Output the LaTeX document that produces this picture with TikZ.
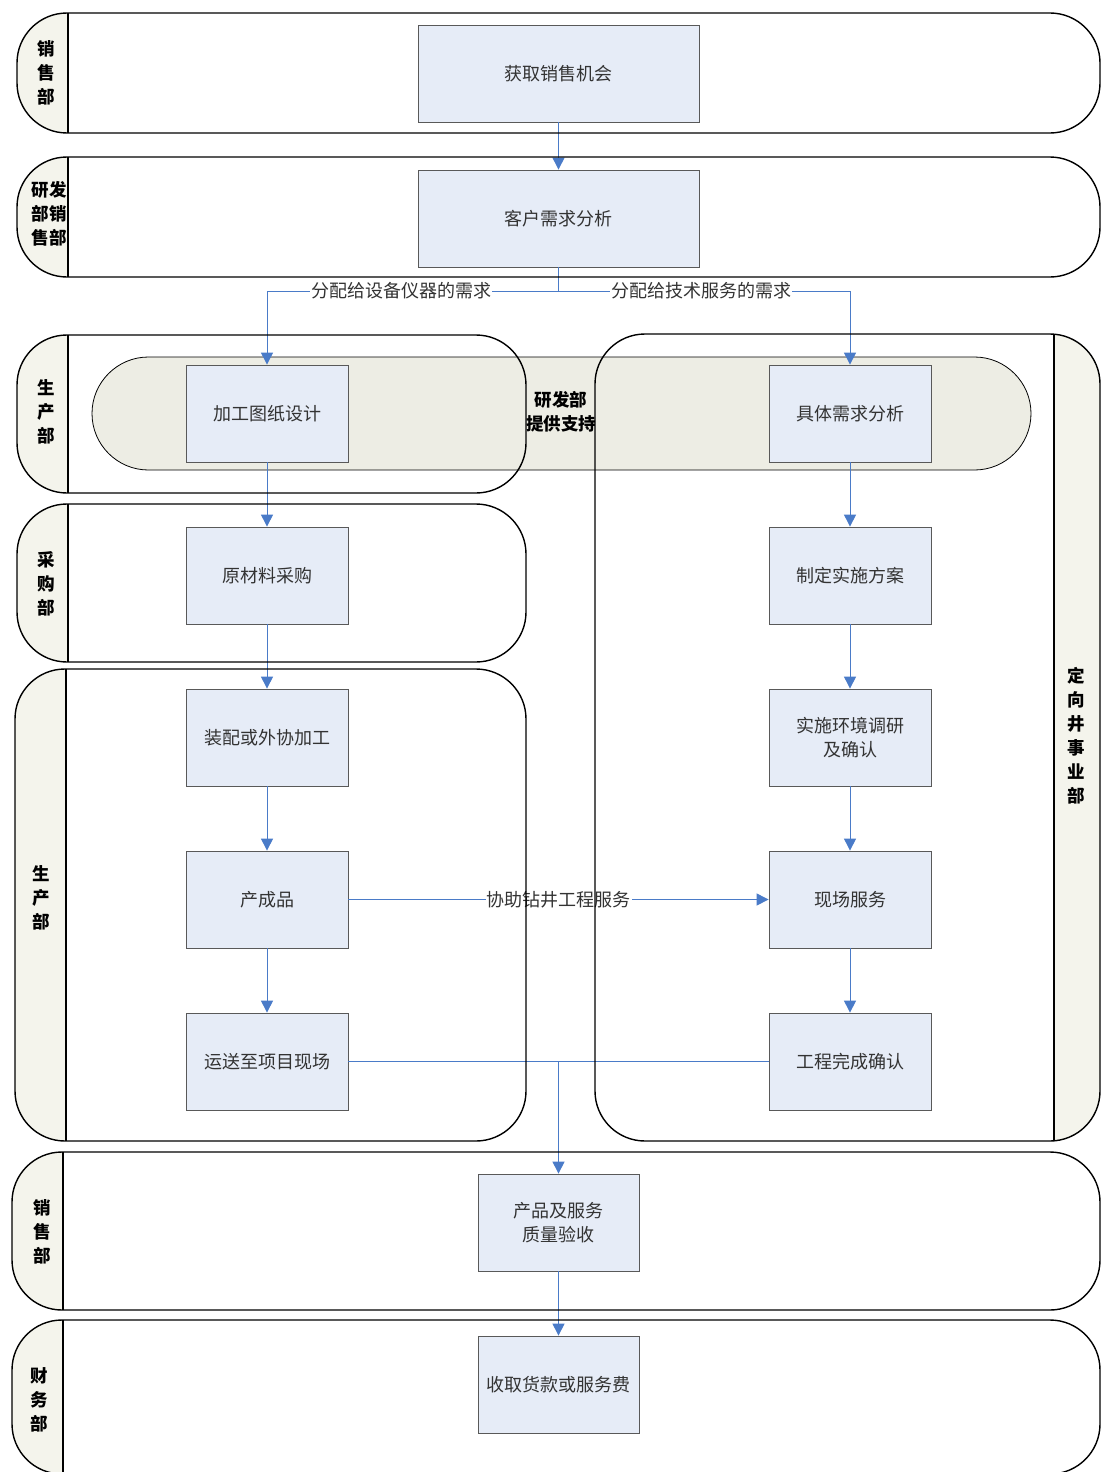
\documentclass[tikz,border=0pt]{standalone}
\usepackage{fontspec}
\usetikzlibrary{arrows.meta}
\newfontfamily\cjk{Noto Sans CJK SC}
\definecolor{flowblue}{RGB}{74,123,200}
\definecolor{boxblue}{RGB}{230,236,247}
\definecolor{bandgray}{RGB}{237,237,228}
\definecolor{lanegray}{RGB}{244,244,236}

% shaded label part of a lane
\newcommand{\poolshade}[2]{%
  \begin{scope}
    \clip[rounded corners=50pt] #1;
    \fill[lanegray] #2;
  \end{scope}}

\tikzset{
  taskbox/.style={draw=black!65, fill=boxblue, line width=0.8pt, minimum width=162pt,
    minimum height=97pt, align=center, inner sep=0pt, text=black!80,
    font=\cjk\fontsize{18}{24}\selectfont},
  lanetext/.style={align=center, inner sep=0pt, font=\cjk\bfseries\fontsize{17.5}{24}\selectfont},
  flowline/.style={draw=flowblue, line width=1pt},
  flowarrow/.style={flowline, -{Triangle[width=12pt,length=12pt]}},
  flowlabel/.style={fill=white, inner sep=1pt, text=black!80, font=\cjk\fontsize{18}{24}\selectfont},
  lanebd/.style={line width=1.4pt, rounded corners=50pt},
}

\begin{document}
\begin{tikzpicture}[x=1pt, y=-1pt]
\useasboundingbox (0,0) rectangle (1101,1472);
\clip (0,0) rectangle (1101,1472);

% lane label shading
\poolshade{(17,13) rectangle (1100,133)}{(17,13) rectangle (68,133)}
\poolshade{(17,157) rectangle (1100,277)}{(17,157) rectangle (68,277)}
\poolshade{(17,335) rectangle (526,493)}{(17,335) rectangle (68,493)}
\poolshade{(17,504) rectangle (526,662)}{(17,504) rectangle (68,662)}
\poolshade{(15,669) rectangle (526,1141)}{(15,669) rectangle (66,1141)}
\poolshade{(595,334) rectangle (1100,1141)}{(1054,334) rectangle (1100,1141)}
\poolshade{(12,1152) rectangle (1100,1310)}{(12,1152) rectangle (63,1310)}
\poolshade{(12,1320) rectangle (1100,1474)}{(12,1320) rectangle (63,1474)}

% support band
\draw[fill=bandgray, line width=0.8pt, rounded corners=56.5pt] (92,357) rectangle (1031,470);
\node[lanetext] (support) at (561,412) {研发部\\提供支持};

% tasks
\node[taskbox, minimum width=281pt] (t1) at (558.5,73.5) {获取销售机会};
\node[taskbox, minimum width=281pt] (t2) at (558.5,218.5) {客户需求分析};

\node[taskbox] (a1) at (267,413.5) {加工图纸设计};
\node[taskbox] (a2) at (267,575.5) {原材料采购};
\node[taskbox] (a3) at (267,737.5) {装配或外协加工};
\node[taskbox] (a4) at (267,899.5) {产成品};
\node[taskbox] (a5) at (267,1061.5) {运送至项目现场};

\node[taskbox] (b1) at (850,413.5) {具体需求分析};
\node[taskbox] (b2) at (850,575.5) {制定实施方案};
\node[taskbox] (b3) at (850,737.5) {实施环境调研\\及确认};
\node[taskbox] (b4) at (850,899.5) {现场服务};
\node[taskbox] (b5) at (850,1061.5) {工程完成确认};

\node[taskbox, minimum width=161pt] (c1) at (558.5,1222.5) {产品及服务\\质量验收};
\node[taskbox, minimum width=161pt] (c2) at (558.5,1384.5) {收取货款或服务费};

% connectors
\coordinate (split) at (558.5,291);
\coordinate (join) at (558.5,1061.5);
\draw[flowarrow] (t1) -- (t2);
\draw[flowline] (t2) -- (split);
\draw[flowarrow] (split) -| node[flowlabel, pos=0.27] {分配给设备仪器的需求} (a1);
\draw[flowarrow] (split) -| node[flowlabel, pos=0.245] {分配给技术服务的需求} (b1);

\foreach \u/\v in {a1/a2, a2/a3, a3/a4, a4/a5, b1/b2, b2/b3, b3/b4, b4/b5}
  \draw[flowarrow] (\u) -- (\v);

\draw[flowarrow] (a4) -- node[flowlabel] {协助钻井工程服务} (b4);
\draw[flowline] (a5) -- (b5);
\draw[flowarrow] (join) -- (c1);
\draw[flowarrow] (c1) -- (c2);

% lane outlines
\draw[lanebd] (17,13) rectangle (1100,133);
\draw[lanebd] (17,157) rectangle (1100,277);
\draw[lanebd] (17,335) rectangle (526,493);
\draw[lanebd] (17,504) rectangle (526,662);
\draw[lanebd] (15,669) rectangle (526,1141);
\draw[lanebd] (595,334) rectangle (1100,1141);
\draw[lanebd] (12,1152) rectangle (1100,1310);
\draw[lanebd] (12,1320) rectangle (1100,1474);
\foreach \x/\ya/\yb in {68/13/133, 68/157/277, 68/335/493, 68/504/662, 66/669/1141,
    1054/334/1141, 63/1152/1310, 63/1320/1474}
  \draw[line width=1.4pt] (\x,\ya) -- (\x,\yb);

% lane names
\node[lanetext] (sales1) at (46,73) {销\\售\\部};
\node[lanetext] (rdsales) at (49,214) {研发\\部销\\售部};
\node[lanetext] (prod1) at (46,412) {生\\产\\部};
\node[lanetext] (purch) at (46,584) {采\\购\\部};
\node[lanetext] (prod2) at (41,898) {生\\产\\部};
\node[lanetext] (drill) at (1076,736) {定\\向\\井\\事\\业\\部};
\node[lanetext] (sales2) at (42,1232) {销\\售\\部};
\node[lanetext] (finance) at (39,1400) {财\\务\\部};
\end{tikzpicture}
\end{document}
